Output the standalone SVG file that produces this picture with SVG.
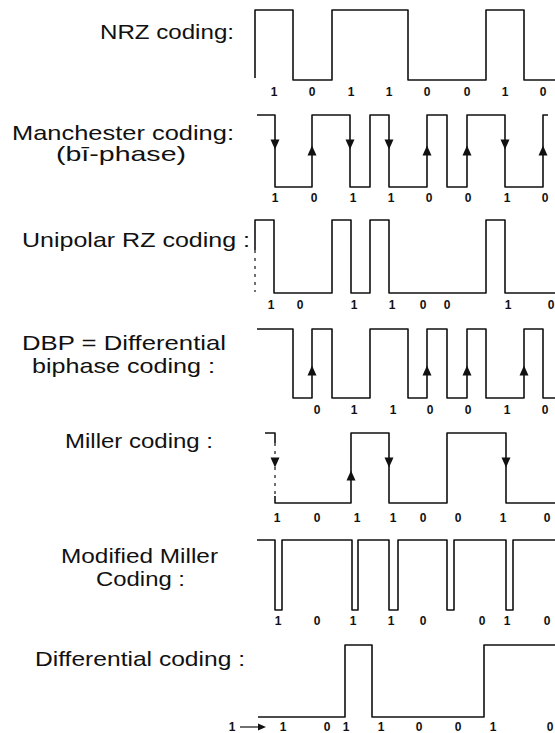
<svg xmlns="http://www.w3.org/2000/svg" width="555" height="733" viewBox="0 0 555 733">
<style>
.lbl{font-family:"Liberation Sans",Arial,sans-serif;font-size:21px;fill:#111}
.bit{font-family:"Liberation Sans",Arial,sans-serif;font-size:12px;font-weight:bold;fill:#111;text-anchor:middle}
.wave{fill:none;stroke:#111;stroke-width:1.6;stroke-linejoin:round}
.faint{fill:none;stroke:#111;stroke-width:1.2;stroke-dasharray:3 5}
.ah{fill:#111}
</style>
<defs>
<path id="dn" d="M-4.5,-5.5 L4.5,-5.5 L0,4.5 Z"/>
<path id="up" d="M-4.5,5.5 L4.5,5.5 L0,-4.5 Z"/>
</defs>
<rect width="555" height="733" fill="#fff"/>

<g id="nrz">
<text class="lbl" x="100" y="39" textLength="134" lengthAdjust="spacingAndGlyphs">NRZ coding:</text>
<path class="wave" d="M255,78 V10 H293 V80 H332 V10 H408 V80 H486 V10 H524 V80 H555"/>
<g class="bit"><text x="274" y="96">1</text><text x="312" y="96">0</text><text x="351" y="96">1</text><text x="389" y="96">1</text><text x="427" y="96">0</text><text x="467" y="96">0</text><text x="505" y="96">1</text><text x="543" y="96">0</text></g>
</g>

<g id="manchester">
<text class="lbl" x="12" y="140" textLength="222" lengthAdjust="spacingAndGlyphs">Manchester coding:</text>
<text class="lbl" x="56" y="161" textLength="130" lengthAdjust="spacingAndGlyphs">(bī-phase)</text>
<path class="wave" d="M257,115 H275 V187 H312 V115 H350 V187 H370 V115 H389 V187 H427 V115 H447 V187 H467 V115 H505 V187 H543 V115 H548"/>
<g class="ah"><use href="#dn" x="275" y="145"/><use href="#up" x="312" y="150"/><use href="#dn" x="350" y="145"/><use href="#dn" x="389" y="145"/><use href="#up" x="427" y="150"/><use href="#up" x="467" y="150"/><use href="#dn" x="505" y="145"/><use href="#up" x="543" y="150"/></g>
<g class="bit"><text x="275" y="202">1</text><text x="314" y="202">0</text><text x="353" y="202">1</text><text x="391" y="202">1</text><text x="429" y="202">0</text><text x="468" y="202">0</text><text x="507" y="202">1</text><text x="545" y="202">0</text></g>
</g>

<g id="unipolar-rz">
<text class="lbl" x="22" y="247" textLength="228" lengthAdjust="spacingAndGlyphs">Unipolar RZ coding :</text>
<path class="wave" d="M255,250 V220 H274 V293 H332 V220 H351 V293 H370 V220 H389 V293 H486 V220 H505 V293 H555"/>
<path class="faint" d="M255,250 V292"/>
<g class="bit"><text x="271" y="309">1</text><text x="300" y="309">0</text><text x="354" y="309">1</text><text x="392" y="309">1</text><text x="423" y="309">0</text><text x="447" y="309">0</text><text x="508" y="309">1</text><text x="551" y="309">0</text></g>
</g>

<g id="dbp">
<text class="lbl" x="22" y="350" textLength="204" lengthAdjust="spacingAndGlyphs">DBP = Differential</text>
<text class="lbl" x="32" y="373" textLength="183" lengthAdjust="spacingAndGlyphs">biphase coding :</text>
<path class="wave" d="M257,329 H293 V398 H312 V329 H332 V398 H370 V329 H408 V398 H427 V329 H447 V398 H467 V329 H486 V398 H524 V329 H543 V398 H555"/>
<g class="ah"><use href="#up" x="312" y="370"/><use href="#up" x="427" y="370"/><use href="#up" x="467" y="370"/><use href="#up" x="524" y="370"/></g>
<g class="bit"><text x="317" y="414">0</text><text x="354" y="414">1</text><text x="393" y="414">1</text><text x="430" y="414">0</text><text x="468" y="414">0</text><text x="507" y="414">1</text><text x="545" y="414">0</text></g>
</g>

<g id="miller">
<text class="lbl" x="65" y="448" textLength="148" lengthAdjust="spacingAndGlyphs">Miller coding :</text>
<path class="wave" d="M265,433 H275 V443"/>
<path class="faint" d="M275,443 V496"/>
<path class="wave" d="M275,496 V503 H351 V433 H389 V503 H447 V433 H506 V503 H555"/>
<g class="ah"><use href="#dn" x="275" y="463"/><use href="#up" x="351" y="475"/><use href="#dn" x="389" y="463"/><use href="#dn" x="506" y="463"/></g>
<g class="bit"><text x="277" y="522">1</text><text x="317" y="522">0</text><text x="357" y="522">1</text><text x="393" y="522">1</text><text x="423" y="522">0</text><text x="458" y="522">0</text><text x="503" y="522">1</text><text x="547" y="522">0</text></g>
</g>

<g id="modified-miller">
<text class="lbl" x="61" y="563" textLength="157" lengthAdjust="spacingAndGlyphs">Modified Miller</text>
<text class="lbl" x="96" y="586" textLength="89" lengthAdjust="spacingAndGlyphs">Coding :</text>
<path class="wave" d="M257,540 H275 V610 H282 V540 H352 V610 H358 V540 H389 V610 H398 V540 H447 V610 H454 V540 H506 V610 H513 V540 H555"/>
<g class="bit"><text x="278" y="625">1</text><text x="317" y="625">0</text><text x="353" y="625">1</text><text x="391" y="625">1</text><text x="423" y="625">0</text><text x="482" y="625">0</text><text x="507" y="625">1</text><text x="547" y="625">0</text></g>
</g>

<g id="differential">
<text class="lbl" x="35" y="666" textLength="210" lengthAdjust="spacingAndGlyphs">Differential coding :</text>
<path class="wave" d="M258,717 H345 V645 H372 V717 H484 V645 H555"/>
<text class="bit" x="232" y="731">1</text>
<g class="bit"><text x="283" y="731">1</text><text x="327" y="731">0</text><text x="346" y="731">1</text><text x="381" y="731">1</text><text x="419" y="731">0</text><text x="458" y="731">0</text><text x="493" y="731">1</text><text x="550" y="731">0</text></g>
</g>

<g id="connectors">
<path d="M240,727 H259" fill="none" stroke="#111" stroke-width="1.2"/>
<polygon points="258,723.5 266,727 258,730.5" fill="#111"/>
</g>
</svg>
